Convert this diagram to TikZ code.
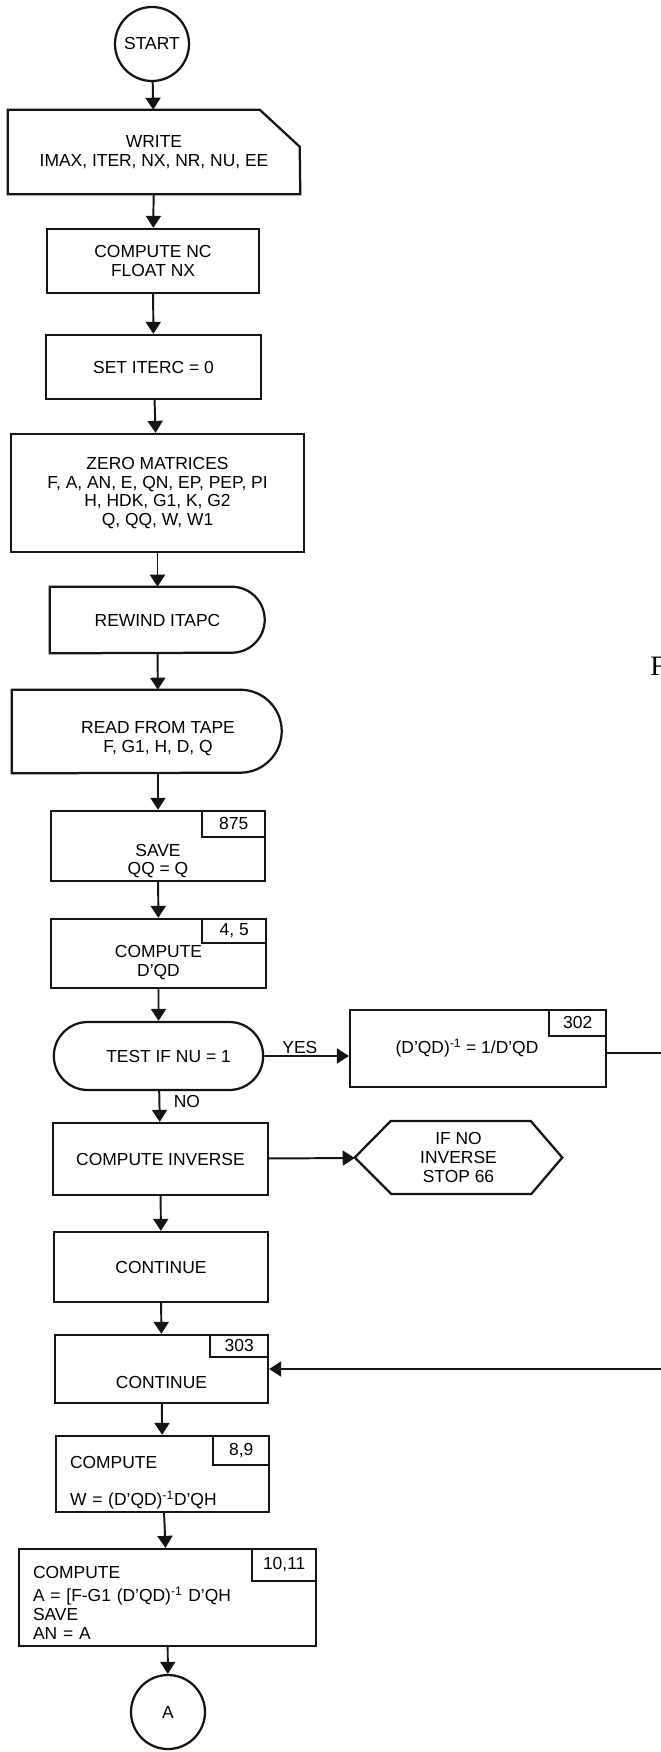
\documentclass[tikz,border=0pt]{standalone}
\usepackage{fontspec}
\setmainfont{Liberation Sans}
\newfontfamily\pageserif{Liberation Serif}
\usepackage{xcolor}
\usepackage{tikz}
\usetikzlibrary{arrows.meta,shapes.misc}
\definecolor{figline}{RGB}{20,20,20}
\newcommand{\padtop}[1]{\rule{0pt}{#1}}
\tikzset{
  blk/.style  ={draw=figline, line width=1.6pt, rectangle, inner sep=2pt, align=center, font=\fontsize{12.4}{13.4}\selectfont},
  ghost/.style={rectangle, inner sep=2pt, align=center, font=\fontsize{12.4}{13.4}\selectfont},
  outl/.style ={draw=figline, line width=1.6pt, line join=miter},
  pill/.style ={blk, rounded rectangle},
  term/.style ={draw=figline, line width=1.6pt, circle, minimum size=1.85cm, inner sep=0pt, font=\fontsize{12.4}{13.4}\selectfont},
  tag/.style  ={draw=figline, line width=1.3pt, rectangle, anchor=north east, minimum width=1.5cm, minimum height=0.65cm, inner sep=1pt, font=\fontsize{12.4}{13.4}\selectfont},
  lab/.style  ={font=\fontsize{12.4}{13.4}\selectfont, inner sep=1pt},
  flow/.style ={draw=figline, line width=1.4pt, -{Triangle[length=0.3cm,width=0.375cm]}},
  wire/.style ={draw=figline, line width=1.4pt},
}
\begin{document}
\begin{tikzpicture}
  \useasboundingbox (0,0) rectangle (16.525,-43.8);
  \node[term] (start) at (3.8,-1.1) {START};
  \node[ghost,minimum width=7.3cm,minimum height=2.1cm] (write) at (3.85,-3.8) {WRITE\\IMAX, ITER, NX, NR, NU, EE};
  \draw[outl] (write.north west) -- ++(6.3,0) -- ++(1.0,-0.925) -- (write.south east) -- (write.south west) -- cycle;
  \node[blk,minimum width=5.3cm,minimum height=1.6cm] (cnc) at (3.825,-6.525) {COMPUTE NC\\FLOAT NX};
  \node[blk,minimum width=5.375cm,minimum height=1.6cm] (setc) at (3.8375,-9.175) {SET ITERC = 0};
  \node[blk,minimum width=7.325cm,minimum height=2.95cm] (zero) at (3.9375,-12.325) {ZERO MATRICES\\F, A, AN, E, QN, EP, PEP, PI\\H, HDK, G1, K, G2\\Q, QQ, W, W1};
  \node[ghost,minimum width=5.375cm,minimum height=1.65cm] (rewind) at (3.9375,-15.5) {REWIND ITAPC};
  \draw[outl] (rewind.north west) -- ++(4.55,0) arc[start angle=90,end angle=-90,radius=0.825] -- (rewind.south west) -- cycle;
  \node[ghost,minimum width=7.3cm,minimum height=2.075cm] (read) at (3.95,-18.2875) {\padtop{0.66cm}READ FROM TAPE\\F, G1, H, D, Q};
  \draw[outl] (read.north west) -- ++(5.7125,0) arc[start angle=90,end angle=-90,radius=1.0375] -- (read.south west) -- cycle;
  \node[blk,minimum width=5.35cm,minimum height=1.75cm] (save) at (3.95,-21.15) {\padtop{1.06cm}SAVE\\QQ = Q};
  \node[tag,minimum width=1.575cm] (tag875) at (save.north east) {875};
  \node[blk,minimum width=5.375cm,minimum height=1.725cm] (dqd) at (3.9625,-23.8375) {\padtop{0.74cm}COMPUTE\\D'QD};
  \node[tag,minimum width=1.6cm,minimum height=0.6cm] (tag45) at (dqd.north east) {4, 5};
  \node[pill,minimum width=5.375cm,minimum height=1.7cm] (test) at (3.9625,-26.4) {\hspace*{0.5cm}TEST IF NU = 1};
  \node[blk,minimum width=6.4cm,minimum height=1.925cm] (inv302) at (11.95,-26.2125) {(D'QD)\textsuperscript{-1} = 1/D'QD\hspace*{0.55cm}};
  \node[tag,minimum width=1.425cm] (tag302) at (inv302.north east) {302};
  \node[blk,minimum width=5.375cm,minimum height=1.8cm] (inv) at (4.0125,-28.975) {COMPUTE INVERSE};
  \node[ghost,minimum width=5.175cm,minimum height=1.825cm] (stop) at (11.4625,-28.9375) {IF NO\\INVERSE\\STOP 66};
  \draw[outl] (stop.west) -- ++(0.9,0.9125) -- ++(3.5,0) -- (stop.east) -- ++(-0.775,-0.9125) -- ++(-3.5,0) -- cycle;
  \node[blk,minimum width=5.35cm,minimum height=1.75cm] (cont) at (4.025,-31.675) {CONTINUE};
  \node[blk,minimum width=5.325cm,minimum height=1.7cm] (cont303) at (4.0375,-34.225) {\padtop{0.9625cm}CONTINUE};
  \node[tag,minimum width=1.45cm,minimum height=0.55cm] (tag303) at (cont303.north east) {303};
  \node[blk,text width=4.625cm,inner xsep=0.35cm,align=left,minimum height=1.85cm] (w89) at (4.0625,-36.85) {\padtop{0.75cm}COMPUTE\\[0.45cm]W = (D'QD)\textsuperscript{-1}D'QH};
  \node[tag,minimum width=1.4cm,minimum height=0.725cm] (tag89) at (w89.north east) {8,9};
  \node[blk,text width=6.725cm,inner xsep=0.35cm,align=left,minimum height=2.425cm] (a1011) at (4.1875,-39.9375) {\padtop{0.5625cm}COMPUTE\\[0.125cm]A = [F-G1 (D'QD)\textsuperscript{-1} D'QH\\SAVE\\AN = A};
  \node[tag,minimum width=1.6cm,minimum height=0.8cm] (tag1011) at (a1011.north east) {10,11};
  \node[term] (acirc) at (4.2,-42.8) {A};
  \node[font=\pageserif\fontsize{20}{20}\selectfont,anchor=west,inner sep=0pt] (pagef) at (16.25,-16.66) {F};
  \coordinate (out302) at (16.6,-26.32);
  \coordinate (in303) at (16.6,-34.225);
  \draw[flow] (start) -- (write);
  \draw[flow] (write) -- (cnc);
  \draw[flow] (cnc) -- (setc);
  \draw[flow] (setc) -- (zero);
  \draw[flow] (zero) -- (rewind);
  \draw[flow] (rewind) -- (read);
  \draw[flow] (read) -- (save);
  \draw[flow] (save) -- (dqd);
  \draw[flow] (dqd) -- (test);
  \draw[flow] (test) -- node[lab,above,pos=0.42] {YES} (test -| inv302.west);
  \draw[flow] (test) -- node[lab,right=0.3cm,pos=0.35] {NO} (inv);
  \draw[flow] (inv) -- (stop);
  \draw[flow] (inv) -- (cont);
  \draw[flow] (cont) -- (cont303);
  \draw[flow] (cont303) -- (w89);
  \draw[flow] (w89) -- (a1011);
  \draw[flow] (a1011) -- (acirc);
  \draw[wire] (inv302.east |- out302) -- (out302);
  \draw[flow] (in303) -- (cont303);
\end{tikzpicture}
\end{document}
